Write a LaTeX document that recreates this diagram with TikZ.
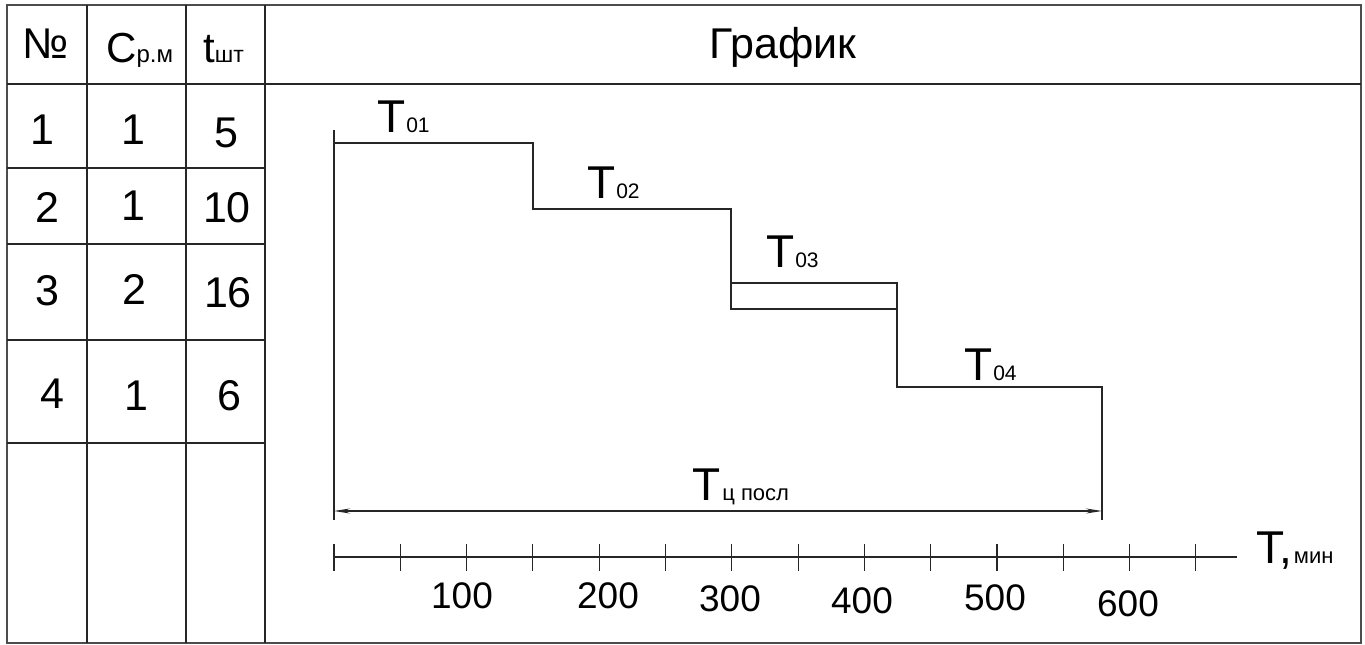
\documentclass[tikz,border=0pt]{standalone}
\usepackage{fontspec}
\setmainfont{Liberation Sans}
\usetikzlibrary{arrows.meta}
\newcommand{\fsz}[1]{\fontsize{#1}{#1}\selectfont}
\begin{document}
\begin{tikzpicture}[x=1pt,y=-1pt,
  thinline/.style={draw=black!85,line width=1.1pt},
  frame/.style={draw=black!70,line width=1.6pt},
  cell/.style={anchor=base,inner sep=0pt,font=\fsz{43}},
  lbl/.style={anchor=base west,inner sep=0pt,font=\fsz{46}},
  axlbl/.style={anchor=base,inner sep=0pt,font=\fsz{37}},
  tick/.style={draw=black!85,line width=1.1pt}]
\useasboundingbox (0,0) rectangle (1365,645);
\fill[white] (0,0) rectangle (1365,645);
% frame and table grid
\draw[frame] (7,5) rectangle (1361,643);
\draw[thinline] (7,84) -- (1361,84);
\draw[thinline] (87,5) -- (87,643);
\draw[thinline] (186,5) -- (186,643);
\draw[thinline] (265,5) -- (265,643);
\foreach \yy in {168,244,340,443} \draw[thinline] (7,\yy) -- (265,\yy);
% header
\node[cell] (hno) at (46,58) {№};
\node[anchor=base west,inner sep=0pt] (hc) at (106,62) {\fsz{42}C\fsz{24}р.м};
\node[anchor=base west,inner sep=0pt] (ht) at (203,62) {\fsz{42}t\fsz{23}шт};
\node[cell] (hgr) at (783,58) {График};
% rows
\node[cell] (a1) at (42,144) {1};
\node[cell] (b1) at (133,144) {1};
\node[cell] (c1) at (226,147) {5};
\node[cell] (a2) at (47,222) {2};
\node[cell] (b2) at (133,220) {1};
\node[cell] (c2) at (227,222) {10};
\node[cell] (a3) at (47,305) {3};
\node[cell] (b3) at (134,304) {2};
\node[cell] (c3) at (228,307) {16};
\node[cell] (a4) at (52,408) {4};
\node[cell] (b4) at (136,410) {1};
\node[cell] (c4) at (229,410) {6};
% chart
\coordinate (top) at (334,130);
\coordinate (bot) at (334,520);
\coordinate (s1) at (334,143);
\coordinate (s2) at (533,143);
\coordinate (s3) at (533,209);
\coordinate (s4) at (731,209);
\coordinate (s5) at (731,309);
\coordinate (s6) at (897,309);
\coordinate (s7) at (897,387);
\coordinate (s8) at (1102,387);
\coordinate (s9) at (1102,520);
\coordinate (u1) at (731,283);
\coordinate (u2) at (897,283);
\draw[thinline] (top) -- (bot);
\draw[thinline] (s1) -- (s2) -- (s3) -- (s4) -- (s5) -- (s6) -- (s7) -- (s8) -- (s9);
\draw[thinline] (u1) -- (u2) -- (s6);
\coordinate (d1) at (334,511);
\coordinate (d2) at (1102,511);
\draw[thinline,{Stealth[length=16pt,width=5pt]}-{Stealth[length=16pt,width=5pt]}] (d1) -- (d2);
\node[lbl] (t1) at (377,132) {T\kern1pt\fsz{21}01};
\node[lbl] (t2) at (587,198) {T\kern1pt\fsz{21}02};
\node[lbl] (t3) at (766,267) {T\kern1pt\fsz{21}03};
\node[lbl] (t4) at (964,380) {T\kern1pt\fsz{21}04};
\node[lbl] (tc) at (692,500) {T\kern2pt\fsz{22}ц посл};
% axis
\coordinate (ax0) at (334,557);
\coordinate (ax1) at (1237,557);
\draw[thinline] (ax0) -- (ax1);
\foreach \k in {0,...,13} \draw[tick] ({334+\k*66.3},544) -- ({334+\k*66.3},571);
\node[lbl] (tax) at (1256,563) {T,\kern2pt\fsz{22}мин};
\node[axlbl] (l1) at (462,608) {100};
\node[axlbl] (l2) at (608,608) {200};
\node[axlbl] (l3) at (730,611) {300};
\node[axlbl] (l4) at (862,613) {400};
\node[axlbl] (l5) at (995,610) {500};
\node[axlbl] (l6) at (1128,616) {600};
\end{tikzpicture}
\end{document}
